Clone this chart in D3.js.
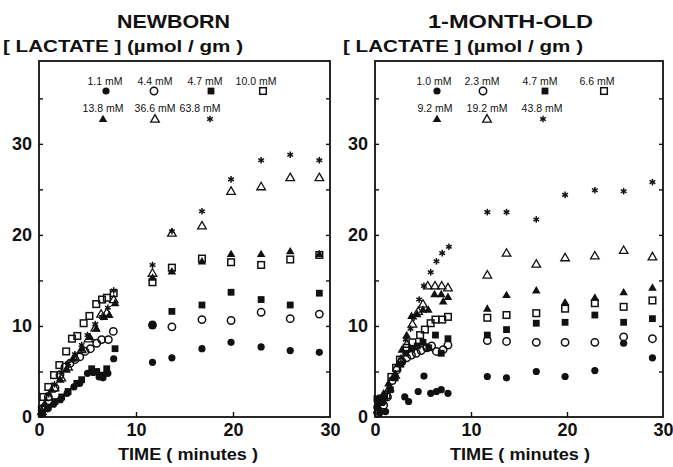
<!DOCTYPE html>
<html>
<head>
<meta charset="utf-8">
<script src="https://cdn.jsdelivr.net/npm/d3@7"></script>
<style>
  body { margin: 0; background: #fff; }
  svg { display: block; }
  text { font-family: "Liberation Sans", Arial, sans-serif; fill: #111; }
</style>
</head>
<body>
<script>
// ---- data ----
const lateTimes = [11.7, 13.7, 16.8, 19.8, 22.9, 25.9, 28.9];
const yTickLabels = [0, 10, 20, 30];
const xTickLabels = [0, 10, 20, 30];
const symbolKinds = ["dot", "ring", "block", "box", "tri", "opentri", "star"];

const newbornLabels = ["1.1 mM", "4.4 mM", "4.7 mM", "10.0 mM", "13.8 mM", "36.6 mM", "63.8 mM"];
const monthLabels = ["1.0 mM", "2.3 mM", "4.7 mM", "6.6 mM", "9.2 mM", "19.2 mM", "43.8 mM"];

// newborn, early samples [min, umol/gm]
const nbEarly11 = [[0.3,0.3],[0.9,0.9],[1.5,1.4],[2.2,1.9],[2.9,2.6],[3.6,3.3],[4.2,3.7],[5.0,4.8],[5.6,4.9],[6.2,4.4],[6.6,4.3],[7.1,4.8],[7.7,6.4]];
const nbEarly44 = [[0.45,1.0],[0.96,2.2],[1.65,3.2],[2.16,4.6],[2.68,5.5],[3.2,5.9],[3.7,6.3],[4.2,6.6],[4.74,7.2],[5.3,7.5],[5.95,8.1],[6.46,8.5],[7.15,8.5],[7.66,9.4]];
const nbEarly47 = [[0.3,0.4],[0.96,1.1],[1.65,1.7],[2.34,2.2],[3.0,2.8],[3.9,3.7],[4.4,4.1],[5.43,5.3],[5.95,5.0],[6.46,4.6],[6.98,5.3],[7.84,7.5]];
const nbEarly100 = [[0.3,0.8],[0.45,2.2],[0.96,3.3],[1.55,4.6],[2.1,5.7],[2.8,7.2],[3.4,8.6],[3.95,8.9],[4.6,10.3],[5.2,11.1],[5.9,12.4],[6.5,12.9],[7.0,13.1],[7.7,13.6]];
const nbEarly138 = [[0.3,0.4],[0.6,1.5],[1.3,3.0],[2.2,4.1],[2.85,5.2],[3.5,6.4],[4.4,7.5],[5.26,8.8],[5.9,9.7],[6.7,11.0],[7.25,11.2],[7.84,12.5]];
const nbEarly366 = [[0.3,0.6],[1.0,2.2],[1.6,3.2],[2.3,4.3],[3.0,5.5],[3.7,6.6],[4.4,7.4],[5.1,8.6],[5.8,9.8],[6.4,11.3],[7.0,11.5],[7.7,12.9]];
const nbEarly638 = [[0.3,0.7],[1.0,2.5],[1.6,3.6],[2.3,4.9],[3.0,5.9],[3.7,6.9],[4.4,7.9],[5.0,9.0],[5.8,10.2],[6.5,11.0],[7.1,12.0],[7.7,13.9]];

// newborn, late samples (one value per lateTimes entry)
const nbLate11 = [6.0, 6.5, 7.5, 8.2, 7.7, 7.3, 7.1];
const nbLate44 = [10.1, 9.9, 10.7, 10.6, 11.5, 10.8, 11.3];
const nbLate47 = [10.1, 11.6, 12.3, 13.7, 12.9, 12.3, 13.6];
const nbLate100 = [14.8, 16.4, 17.4, 17.0, 16.7, 17.3, 17.8];
const nbLate138 = [15.3, 16.0, 17.1, 17.9, 17.9, 18.2, 17.9];
const nbLate366 = [15.8, 20.2, 21.0, 24.8, 25.3, 26.3, 26.3];
const nbLate638 = [16.7, 20.4, 22.6, 26.1, 28.2, 28.8, 28.2];

// 1-month-old, early samples
const moEarly10 = [[0.2,1.1],[0.5,0.5],[0.8,1.6],[1.1,0.6],[3.1,2.2],[3.5,1.7],[4.5,2.8],[5.1,4.5],[5.8,2.6],[6.4,2.8],[6.9,3.0],[7.6,2.6]];
const moEarly23 = [[0.35,0.4],[0.9,1.3],[1.3,2.2],[1.8,4.0],[2.3,5.2],[2.8,6.1],[3.3,6.5],[3.8,6.8],[4.3,7.0],[4.8,7.3],[5.4,7.6],[5.9,7.8],[6.4,7.2],[7.1,7.4],[7.6,7.9]];
const moEarly47 = [[0.2,2.0],[0.6,2.1],[1.0,2.3],[1.6,3.0],[2.1,4.3],[2.7,5.8],[3.2,7.0],[3.8,7.5],[4.4,7.8],[5.0,8.2],[5.6,7.6],[6.3,9.0],[6.9,7.0],[7.6,8.6]];
const moEarly66 = [[0.3,0.6],[0.7,1.9],[1.2,2.4],[1.7,4.4],[2.2,5.4],[2.6,6.3],[3.3,7.6],[3.9,8.2],[4.7,9.0],[5.2,9.6],[5.8,10.3],[6.3,10.7],[7.0,10.7],[7.6,11.0]];
const moEarly92 = [[0.3,1.6],[0.9,2.6],[1.4,3.7],[1.9,4.4],[2.4,5.8],[2.8,7.4],[3.3,9.0],[3.8,11.1],[4.4,11.3],[5.0,11.8],[5.55,11.8],[6.2,13.5],[6.9,13.5],[7.1,12.7],[7.6,13.2]];
const moEarly192 = [[0.3,0.8],[0.9,2.2],[1.5,3.2],[2.1,4.6],[2.7,6.2],[3.3,8.0],[3.9,10.2],[4.5,11.6],[5.0,12.4],[5.5,14.4],[6.25,14.4],[6.95,14.4],[7.6,14.2]];
const moEarly438 = [[0.3,1.5],[0.9,2.2],[1.5,3.0],[2.1,4.6],[2.7,6.5],[3.2,8.5],[3.7,9.7],[4.06,10.9],[4.6,12.9],[5.1,14.4],[5.8,15.9],[6.4,17.1],[7.0,18.0],[7.7,18.7]];

const moLate10 = [4.45, 4.3, 5.0, 4.45, 5.1, 8.1, 6.5];
const moLate23 = [8.4, 8.3, 8.2, 8.2, 8.2, 8.8, 8.6];
const moLate47 = [9.0, 9.6, 10.3, 10.4, 11.2, 10.4, 10.8];
const moLate66 = [10.9, 11.2, 11.4, 11.9, 12.5, 12.1, 12.8];
const moLate92 = [11.9, 13.4, 13.9, 12.6, 13.1, 13.7, 14.2];
const moLate192 = [15.6, 18.0, 16.8, 17.5, 17.7, 18.3, 17.6];
const moLate438 = [22.5, 22.5, 21.7, 24.4, 24.9, 24.8, 25.8];

// ---- build ----
const W = 673, H = 467;
const svg = d3.select("body").append("svg").attr("width", W).attr("height", H);

function joinSeries(early, late) {
  return early.concat(late.map((v, i) => [lateTimes[i], v]));
}

const panels = [
  {
    title: "NEWBORN", titleX: 117, titleW: 113, yLabelX: 3, left: 39, right: 330, timeX: 118,
    labels: newbornLabels,
    series: [joinSeries(nbEarly11, nbLate11), joinSeries(nbEarly44, nbLate44), joinSeries(nbEarly47, nbLate47),
             joinSeries(nbEarly100, nbLate100), joinSeries(nbEarly138, nbLate138), joinSeries(nbEarly366, nbLate366),
             joinSeries(nbEarly638, nbLate638)],
    legText: [105, 155, 205, 256, 103, 155, 200],
    legSym: [106, 154, 211, 263, 103, 155, 210]
  },
  {
    title: "1-MONTH-OLD", titleX: 428, titleW: 165, yLabelX: 343, left: 375, right: 663, timeX: 450,
    labels: monthLabels,
    series: [joinSeries(moEarly10, moLate10), joinSeries(moEarly23, moLate23), joinSeries(moEarly47, moLate47),
             joinSeries(moEarly66, moLate66), joinSeries(moEarly92, moLate92), joinSeries(moEarly192, moLate192),
             joinSeries(moEarly438, moLate438)],
    legText: [434, 482, 540, 597, 435, 487, 542],
    legSym: [437, 483, 545, 604, 437, 487, 543]
  }
];

const plotTop = 61, plotBottom = 417;

function drawSymbol(g, kind, cx, cy) {
  const s = g.append("g").attr("transform", `translate(${cx},${cy})`);
  if (kind === "dot") {
    s.append("circle").attr("r", 3.6).attr("fill", "#111");
  } else if (kind === "ring") {
    s.append("circle").attr("r", 3.7).attr("fill", "none").attr("stroke", "#111").attr("stroke-width", 1.5);
  } else if (kind === "block") {
    s.append("rect").attr("x", -3.4).attr("y", -3.4).attr("width", 6.8).attr("height", 6.8).attr("fill", "#111");
  } else if (kind === "box") {
    s.append("rect").attr("x", -3.3).attr("y", -3.3).attr("width", 6.6).attr("height", 6.6)
      .attr("fill", "none").attr("stroke", "#111").attr("stroke-width", 1.5);
  } else if (kind === "tri" || kind === "opentri") {
    const p = d3.symbol(d3.symbolTriangle, 32)();
    const t = s.append("path").attr("d", p).attr("transform", "translate(0,0.6)");
    if (kind === "tri") t.attr("fill", "#111");
    else t.attr("fill", "none").attr("stroke", "#111").attr("stroke-width", 1.3);
  } else if (kind === "star") {
    [0, 60, 120].forEach(a => {
      s.append("line").attr("x1", 0).attr("y1", -3.3).attr("x2", 0).attr("y2", 3.3)
        .attr("stroke", "#111").attr("stroke-width", 1.5).attr("transform", `rotate(${a})`);
    });
  }
}

panels.forEach(p => {
  const x = d3.scaleLinear().domain([0, 30]).range([p.left, p.right]);
  const y = d3.scaleLinear().domain([0, 39.1]).range([plotBottom, plotTop]);
  const g = svg.append("g");

  // titles
  g.append("text").attr("x", p.titleX).attr("y", 28)
    .attr("font-size", 19).attr("font-weight", "bold")
    .attr("textLength", p.titleW).attr("lengthAdjust", "spacingAndGlyphs").text(p.title);
  g.append("text").attr("x", p.yLabelX).attr("y", 52)
    .attr("font-size", 16.5).attr("font-weight", "bold")
    .attr("textLength", 240).attr("lengthAdjust", "spacingAndGlyphs")
    .text("[ LACTATE ] (\u00b5mol / gm )");

  // inward ticks
  const tickVals = d3.range(5, 40, 5);
  g.append("g").attr("transform", `translate(${p.left},0)`)
    .call(d3.axisLeft(y).tickValues(tickVals).tickSize(-4).tickFormat(""))
    .call(a => a.select(".domain").remove());
  g.append("g").attr("transform", `translate(${p.right},0)`)
    .call(d3.axisRight(y).tickValues(tickVals).tickSize(-4).tickFormat(""))
    .call(a => a.select(".domain").remove());
  g.append("g").attr("transform", `translate(0,${plotBottom})`)
    .call(d3.axisBottom(x).tickValues([10, 20]).tickSize(-5).tickFormat(""))
    .call(a => a.select(".domain").remove());
  g.selectAll(".tick line").attr("stroke", "#111").attr("stroke-width", 1.4);

  // tick labels
  g.append("g").attr("transform", `translate(${p.left},0)`)
    .call(d3.axisLeft(y).tickValues(yTickLabels).tickSize(0).tickPadding(7))
    .call(a => a.select(".domain").remove())
    .selectAll("text").attr("font-size", 18).attr("font-weight", "bold")
    .attr("font-family", "Liberation Sans, Arial, sans-serif").attr("fill", "#111");
  g.append("g").attr("transform", `translate(0,${plotBottom})`)
    .call(d3.axisBottom(x).tickValues(xTickLabels).tickSize(0).tickPadding(6))
    .call(a => a.select(".domain").remove())
    .selectAll("text").attr("font-size", 18).attr("font-weight", "bold")
    .attr("font-family", "Liberation Sans, Arial, sans-serif").attr("fill", "#111");

  // frame
  g.append("rect").attr("x", p.left).attr("y", plotTop)
    .attr("width", p.right - p.left).attr("height", plotBottom - plotTop)
    .attr("fill", "none").attr("stroke", "#111").attr("stroke-width", 1.8);

  g.append("text").attr("x", p.timeX).attr("y", 460)
    .attr("font-size", 17).attr("font-weight", "bold")
    .attr("textLength", 140).attr("lengthAdjust", "spacingAndGlyphs").text("TIME ( minutes )");

  // legend
  p.labels.forEach((lab, i) => {
    const row = i < 4 ? 0 : 1;
    g.append("text").attr("x", p.legText[i]).attr("y", row ? 112 : 85).attr("text-anchor", "middle")
      .attr("font-size", 10.5).text(lab);
    drawSymbol(g, symbolKinds[i], p.legSym[i], row ? 119 : 91);
  });

  // data points
  p.series.forEach((pts, i) => {
    pts.forEach(d => drawSymbol(g, symbolKinds[i], x(d[0]), y(d[1])));
  });
});
</script>
</body>
</html>
